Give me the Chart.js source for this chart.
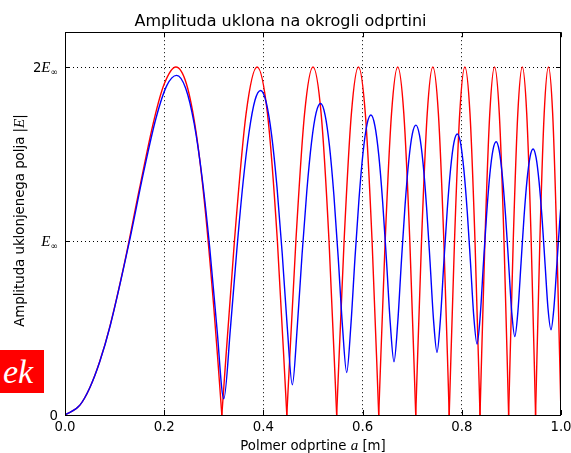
<!DOCTYPE html>
<html>
<head>
<meta charset="utf-8">
<script src="https://cdn.jsdelivr.net/npm/chart.js@4.4.1/dist/chart.umd.min.js"></script>
<style>
html,body{margin:0;padding:0;background:#fff;}
#wrap{position:relative;width:571px;height:453px;overflow:hidden;}
#c{position:absolute;left:0;top:0;}
#logo{position:absolute;left:0;top:350px;width:44px;height:43px;background:#ff0000;color:#fff;
  font:italic 34px "Liberation Serif","DejaVu Serif",serif;line-height:43px;padding-left:3px;box-sizing:border-box;
  overflow:hidden;white-space:nowrap;}
</style>
</head>
<body>
<div id="wrap">
<canvas id="c" width="571" height="453"></canvas>
<div id="logo">ek</div>
</div>
<script>
// ---- data ----
const titleText = 'Amplituda uklona na okrogli odprtini';
const xTitle = ['Polmer odprtine ', 'a', ' [m]'];
const yTitle = ['Amplituda uklonjenega polja |', 'E', '|'];
const xTicks = [0, 0.2, 0.4, 0.6, 0.8, 1.0];
const xTickLabels = ['0.0', '0.2', '0.4', '0.6', '0.8', '1.0'];
const yTicks = [0, 1, 2];
const yTickLabels = [['0', '', ''], ['', 'E', '∞'], ['2', 'E', '∞']];

// red curve: aperture radius a [m] and amplitude (units of E∞)
const redA = [0, 0.03, 0.05, 0.07, 0.09, 0.12, 0.15, 0.18, 0.2, 0.2236, 0.2449, 0.2646, 0.2828, 0.3, 0.3082, 0.3162,
  0.3416, 0.3651, 0.3873, 0.4082, 0.4282, 0.4472,
  0.4655, 0.4830, 0.5000, 0.5164, 0.5323, 0.5477,
  0.5627, 0.5774, 0.5916, 0.6055, 0.6191, 0.6325,
  0.6455, 0.6583, 0.6708, 0.6831, 0.6952, 0.7071,
  0.7188, 0.7303, 0.7416, 0.7528, 0.7638, 0.7746,
  0.7853, 0.7958, 0.8062, 0.8165, 0.8266, 0.8367,
  0.8466, 0.8564, 0.8660, 0.8756, 0.8851, 0.8944,
  0.9037, 0.9129, 0.9220, 0.9309, 0.9399, 0.9487,
  0.9574, 0.9661, 0.9747, 0.9832, 0.9916, 1.0];
const redE = [0, 0.057, 0.157, 0.307, 0.504, 0.874, 1.299, 1.702, 1.902, 2, 1.902, 1.618, 1.176, 0.618, 0.313, 0,
  1, 1.732, 2, 1.732, 1, 0,
  1, 1.732, 2, 1.732, 1, 0,
  1, 1.732, 2, 1.732, 1, 0,
  1, 1.732, 2, 1.732, 1, 0,
  1, 1.732, 2, 1.732, 1, 0,
  1, 1.732, 2, 1.732, 1, 0,
  1, 1.732, 2, 1.732, 1, 0,
  1, 1.732, 2, 1.732, 1, 0,
  1, 1.732, 2, 1.732, 1, 0];

// blue curve
const blueA = [0, 0.03, 0.05, 0.07,
  0.0914, 0.1294, 0.1586, 0.1833, 0.2052, 0.2250, 0.2433, 0.2603, 0.2764, 0.2917, 0.3062, 0.3202,
  0.3336, 0.3465, 0.3590, 0.3712, 0.3830, 0.3945, 0.4057, 0.4167, 0.4274, 0.4379, 0.4482, 0.4583,
  0.4682, 0.4779, 0.4875, 0.4969, 0.5062, 0.5154, 0.5244, 0.5333, 0.5421, 0.5508, 0.5594, 0.5679,
  0.5763, 0.5846, 0.5928, 0.6009, 0.6090, 0.6169, 0.6248, 0.6327, 0.6404, 0.6481, 0.6558, 0.6633,
  0.6708, 0.6783, 0.6857, 0.6930, 0.7003, 0.7076, 0.7147, 0.7219, 0.7290, 0.7360, 0.7430, 0.7500,
  0.7569, 0.7638, 0.7707, 0.7775, 0.7842, 0.7910, 0.7977, 0.8043, 0.8110, 0.8176, 0.8241, 0.8307,
  0.8372, 0.8436, 0.8501, 0.8565, 0.8629, 0.8693, 0.8756, 0.8819, 0.8882, 0.8945, 0.9007, 0.9069,
  0.9131, 0.9193, 0.9254, 0.9315, 0.9377, 0.9437, 0.9498, 0.9558, 0.9619, 0.9679, 0.9738, 0.9798,
  0.9857, 0.9917, 0.9976, 1.0];
const blueE = [0, 0.057, 0.157, 0.306,
  0.516, 0.992, 1.397, 1.704, 1.893, 1.952, 1.878, 1.677, 1.365, 0.963, 0.502, 0.093,
  0.501, 0.951, 1.336, 1.628, 1.809, 1.865, 1.796, 1.606, 1.310, 0.930, 0.501, 0.174,
  0.502, 0.921, 1.286, 1.564, 1.736, 1.790, 1.724, 1.544, 1.264, 0.906, 0.511, 0.244,
  0.513, 0.900, 1.244, 1.508, 1.672, 1.724, 1.662, 1.491, 1.226, 0.890, 0.527, 0.306,
  0.530, 0.886, 1.209, 1.460, 1.616, 1.666, 1.608, 1.446, 1.194, 0.879, 0.547, 0.360,
  0.551, 0.876, 1.181, 1.418, 1.567, 1.615, 1.560, 1.406, 1.168, 0.872, 0.569, 0.408,
  0.572, 0.870, 1.156, 1.382, 1.524, 1.570, 1.517, 1.371, 1.146, 0.868, 0.590, 0.451,
  0.594, 0.867, 1.136, 1.350, 1.485, 1.529, 1.479, 1.340, 1.127, 0.866, 0.612, 0.490,
  0.616, 0.866, 1.119, 1.210];

// ---- build datasets ----
function splitAtZeros(xs, ys) {
  const out = []; let cur = [];
  for (let i = 0; i < xs.length; i++) {
    cur.push({x: xs[i], y: ys[i]});
    if (ys[i] === 0 && cur.length > 1) { out.push(cur); cur = [{x: xs[i], y: ys[i]}]; }
  }
  if (cur.length > 1) out.push(cur);
  return out;
}
const lineBase = {pointRadius: 0, pointHoverRadius: 0, fill: false, cubicInterpolationMode: 'monotone', borderWidth: 1.4};
const datasets = [Object.assign({label: 'blue', borderColor: '#0000ff',
  data: blueA.map((a, i) => ({x: a, y: blueE[i]}))}, lineBase)];
splitAtZeros(redA, redE).forEach((seg, k) => datasets.push(Object.assign({label: 'red' + k, borderColor: '#ff0000', data: seg}, lineBase)));

const SANS = '"DejaVu Sans", sans-serif';
const SERIF = '"Liberation Serif", "DejaVu Serif", serif';

function drawRuns(ctx, runs, x, y, align) {
  let w = 0;
  runs.forEach(r => { ctx.font = r.font; r.w = r.t ? ctx.measureText(r.t).width : 0; w += r.w; });
  let cx = align === 'right' ? x - w : align === 'center' ? x - w / 2 : x;
  runs.forEach(r => { if (r.t) { ctx.font = r.font; ctx.fillText(r.t, cx, y + (r.dy || 0)); } cx += r.w; });
}

const decor = {
  id: 'decor',
  afterDraw(chart) {
    const {ctx, chartArea, scales} = chart;
    const {left, right, top, bottom} = chartArea;
    const xs = scales.x, ys = scales.y;
    ctx.save();
    ctx.strokeStyle = '#000'; ctx.lineWidth = 1; ctx.setLineDash([]);
    ctx.strokeRect(Math.round(left) + 0.5, Math.round(top) + 0.5, Math.round(right - left) - 1, Math.round(bottom - top));
    ctx.beginPath();
    xTicks.forEach(v => {
      const px = Math.round(xs.getPixelForValue(v)) + 0.5;
      ctx.moveTo(px, bottom); ctx.lineTo(px, bottom - 5);
      ctx.moveTo(px, top); ctx.lineTo(px, top + 5);
    });
    yTicks.forEach(v => {
      const py = Math.round(ys.getPixelForValue(v)) + 0.5;
      ctx.moveTo(left, py); ctx.lineTo(left + 5, py);
      ctx.moveTo(right, py); ctx.lineTo(right - 5, py);
    });
    ctx.stroke();
    ctx.fillStyle = '#000';
    ctx.textBaseline = 'alphabetic';
    // y tick labels
    yTicks.forEach((v, i) => {
      const py = ys.getPixelForValue(v);
      const lab = yTickLabels[i];
      drawRuns(ctx, [
        {t: lab[0], font: '13.3px ' + SANS},
        {t: lab[1], font: 'italic 15px ' + SERIF},
        {t: lab[2], font: '9px ' + SANS, dy: 3}
      ], left - 7, py + 5, 'right');
    });
    // x axis title
    drawRuns(ctx, [
      {t: xTitle[0], font: '13.3px ' + SANS},
      {t: xTitle[1], font: 'italic 15px ' + SERIF},
      {t: xTitle[2], font: '13.3px ' + SANS}
    ], (left + right) / 2, 450, 'center');
    // y axis title
    ctx.translate(19, (top + bottom) / 2 - 3);
    ctx.rotate(-Math.PI / 2);
    drawRuns(ctx, [
      {t: yTitle[0], font: '13.3px ' + SANS},
      {t: yTitle[1], font: 'italic 15px ' + SERIF},
      {t: yTitle[2], font: '13.3px ' + SANS}
    ], 0, 5, 'center');
    ctx.restore();
  }
};

const gridColor = (lo, hi) => (c) => (c.tick && c.tick.value > lo && c.tick.value < hi) ? '#000' : 'rgba(0,0,0,0)';

new Chart(document.getElementById('c'), {
  type: 'line',
  data: {datasets},
  plugins: [decor],
  options: {
    responsive: false,
    animation: false,
    devicePixelRatio: 1,
    layout: {padding: {left: 0, right: 10, top: 0, bottom: 0}},
    plugins: {
      legend: {display: false},
      tooltip: {enabled: false},
      title: {display: true, text: titleText, color: '#000',
        font: {family: 'DejaVu Sans', size: 16, weight: 'normal'}, padding: {top: 12, bottom: 1}}
    },
    scales: {
      x: {
        type: 'linear', min: 0, max: 1,
        afterBuildTicks: s => { s.ticks = xTicks.map(v => ({value: v})); },
        ticks: {callback: (v, i) => xTickLabels[i], color: '#000', padding: 5, maxRotation: 0, autoSkip: false,
          font: {family: 'DejaVu Sans', size: 13.3}},
        grid: {color: gridColor(0.001, 0.999), lineWidth: 1, drawTicks: false},
        border: {display: false, dash: [1, 3]},
        afterFit: s => { s.height = 38; s.paddingLeft = 0; s.paddingRight = 0; }
      },
      y: {
        type: 'linear', min: 0, max: 2.2,
        afterBuildTicks: s => { s.ticks = yTicks.map(v => ({value: v})); },
        ticks: {display: false},
        grid: {color: gridColor(0.001, 2.1), lineWidth: 1, drawTicks: false},
        border: {display: false, dash: [1, 3]},
        afterFit: s => { s.width = 65; s.paddingTop = 0; s.paddingBottom = 0; }
      }
    }
  }
});
</script>
</body>
</html>
